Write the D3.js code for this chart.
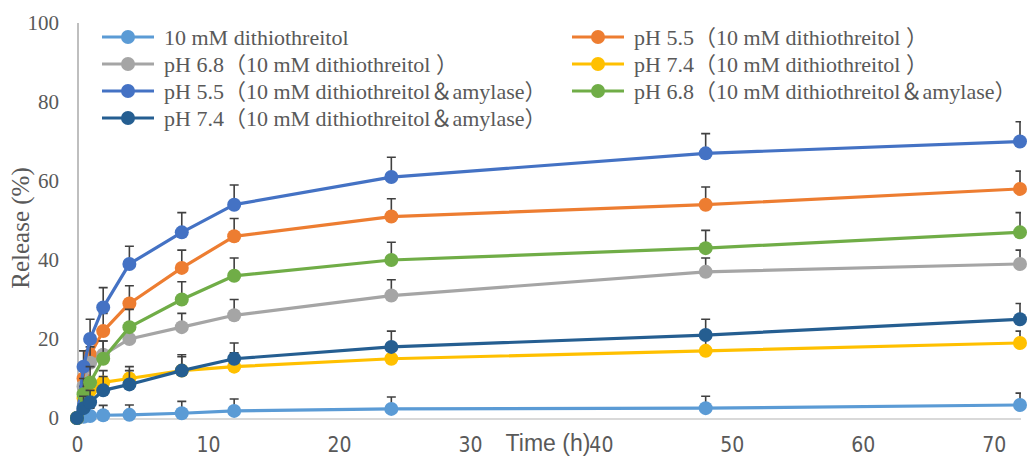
<!DOCTYPE html>
<html>
<head>
<meta charset="utf-8">
<script src="https://cdn.jsdelivr.net/npm/d3@7/dist/d3.min.js"></script>
<style>
  html, body { margin: 0; padding: 0; background: #fff; }
  svg { display: block; }
</style>
</head>
<body>
<svg id="chart" width="1028" height="458"></svg>
<script>
// ---- data ----
const times = [0, 0.5, 1, 2, 4, 8, 12, 24, 48, 72];
const seriesNames = [
  "10 mM dithiothreitol",
  "pH 5.5（10 mM dithiothreitol ）",
  "pH 6.8（10 mM dithiothreitol ）",
  "pH 7.4（10 mM dithiothreitol ）",
  "pH 5.5（10 mM dithiothreitol＆amylase）",
  "pH 6.8（10 mM dithiothreitol＆amylase）",
  "pH 7.4（10 mM dithiothreitol＆amylase）"
];
const seriesColors = ["#5B9BD5", "#ED7D31", "#A5A5A5", "#FFC000", "#4472C4", "#70AD47", "#255E91"];
const dttOnly      = [0, 0.3, 0.5, 0.7, 0.8, 1.2, 1.8, 2.3, 2.5, 3.3];
const ph55Dtt      = [0, 10, 16, 22, 29, 38, 46, 51, 54, 58];
const ph68Dtt      = [0, 8, 14, 16, 20, 23, 26, 31, 37, 39];
const ph74Dtt      = [0, 5, 7, 9, 10, 12, 13, 15, 17, 19];
const ph55Amy      = [0, 13, 20, 28, 39, 47, 54, 61, 67, 70];
const ph68Amy      = [0, 6, 9, 15, 23, 30, 36, 40, 43, 47];
const ph74Amy      = [0, 2.5, 4, 7, 8.5, 12, 15, 18, 21, 25];
const errDttOnly   = [0, 1.5, 2, 2.5, 2.5, 3, 3, 3, 3, 3];
const errPh55Dtt   = [0, 4, 4, 4.5, 4.5, 4.5, 4.5, 4.5, 4.5, 4.5];
const errPh68Dtt   = [0, 4, 4, 3.5, 3.5, 3.5, 4, 4, 3.5, 3.5];
const errPh74Dtt   = [0, 3, 3, 3, 3, 3.5, 3.5, 3.5, 3.5, 3];
const errPh55Amy   = [0, 4, 5, 5, 4.5, 5, 5, 5, 5, 5];
const errPh68Amy   = [0, 4, 4, 4.5, 4.5, 4.5, 4.5, 4.5, 4.5, 5];
const errPh74Amy   = [0, 3, 3, 3.5, 3.5, 4, 4, 4, 4, 4];
const yTicks = [0, 20, 40, 60, 80, 100];
const xTicks = [0, 10, 20, 30, 40, 50, 60, 70];
const xTitle = "Time (h)";
const yTitle = "Release (%)";

const values = [dttOnly, ph55Dtt, ph68Dtt, ph74Dtt, ph55Amy, ph68Amy, ph74Amy];
const errors = [errDttOnly, errPh55Dtt, errPh68Dtt, errPh74Dtt, errPh55Amy, errPh68Amy, errPh74Amy];
const series = seriesNames.map((name, i) => ({
  name, color: seriesColors[i],
  points: times.map((t, j) => ({ t, v: values[i][j], e: errors[i][j] }))
}));

// ---- layout ----
const svg = d3.select("#chart");
svg.append("rect").attr("width", 1028).attr("height", 458).attr("fill", "#fff");
const x = d3.scaleLinear().domain([0, 72]).range([77, 1020]);
const y = d3.scaleLinear().domain([0, 100]).range([418, 23]);

svg.append("defs").append("clipPath").attr("id", "plotclip")
  .append("rect").attr("x", 0).attr("y", 0).attr("width", 1021).attr("height", 458);

// axes
const yAxis = svg.append("g").attr("transform", "translate(78,0)")
  .call(d3.axisLeft(y).tickValues(yTicks).tickSize(0).tickSizeOuter(0).tickPadding(19).tickFormat(d3.format("d")));
yAxis.select(".domain").attr("stroke", "#BFBFBF").attr("stroke-width", 2).attr("d", `M0,${y(0)}V${y(100)}`);
yAxis.selectAll("text").attr("font-family", "'Liberation Serif', 'Times New Roman', serif")
  .attr("font-size", 21).attr("fill", "#595959");

const xAxis = svg.append("g").attr("transform", "translate(0,419)")
  .call(d3.axisBottom(x).tickValues(xTicks).tickSize(0).tickSizeOuter(0).tickPadding(18).tickFormat(d3.format("d")));
xAxis.select(".domain").attr("stroke", "#D9D9D9").attr("stroke-width", 2).attr("d", `M${x(0)},0H1021`);
xAxis.selectAll("text").attr("font-family", "'Liberation Sans Narrow', 'DejaVu Sans Condensed', sans-serif")
  .attr("font-size", 21).attr("fill", "#595959");

// titles
svg.append("text").attr("x", 548).attr("y", 451).attr("text-anchor", "middle")
  .attr("font-family", "'Liberation Sans', Arial, sans-serif").attr("font-size", 23).attr("fill", "#595959")
  .text(xTitle);
svg.append("text").attr("transform", "translate(29,228) rotate(-90)").attr("text-anchor", "middle")
  .attr("font-family", "'Liberation Serif', 'Times New Roman', serif").attr("font-size", 25).attr("fill", "#595959")
  .text(yTitle);

// series
const line = d3.line().x(d => x(d.t)).y(d => y(d.v));
series.forEach(s => {
  const g = svg.append("g");
  const eb = g.append("g").attr("clip-path", "url(#plotclip)");
  eb.selectAll("path").data(s.points.filter(p => p.e > 0)).join("path")
    .attr("d", p => `M${x(p.t)},${y(p.v)}V${y(p.v + p.e)}M${x(p.t) - 4.5},${y(p.v + p.e)}H${x(p.t) + 4.5}`)
    .attr("stroke", "#404040").attr("stroke-width", 1.6).attr("fill", "none");
  g.append("path").datum(s.points).attr("d", line)
    .attr("fill", "none").attr("stroke", s.color).attr("stroke-width", 3.2).attr("stroke-linejoin", "round");
  g.selectAll("circle").data(s.points).join("circle")
    .attr("cx", p => x(p.t)).attr("cy", p => y(p.v)).attr("r", 7).attr("fill", s.color);
});

// legend
const legendRows = [37, 64, 91, 118];
series.forEach((s, i) => {
  const col = i % 2, row = Math.floor(i / 2);
  const x0 = col === 0 ? 102 : 572;
  const cy = legendRows[row];
  const g = svg.append("g");
  g.append("line").attr("x1", x0).attr("x2", x0 + 52).attr("y1", cy).attr("y2", cy)
    .attr("stroke", s.color).attr("stroke-width", 3.2);
  g.append("circle").attr("cx", x0 + 26).attr("cy", cy).attr("r", 7).attr("fill", s.color);
  g.append("text").attr("x", x0 + 62).attr("y", cy).attr("dy", "0.35em")
    .attr("font-family", "'Liberation Serif', 'Times New Roman', 'Noto Sans CJK SC', serif")
    .attr("font-size", 22).attr("fill", "#595959").text(s.name);
});
</script>
</body>
</html>
